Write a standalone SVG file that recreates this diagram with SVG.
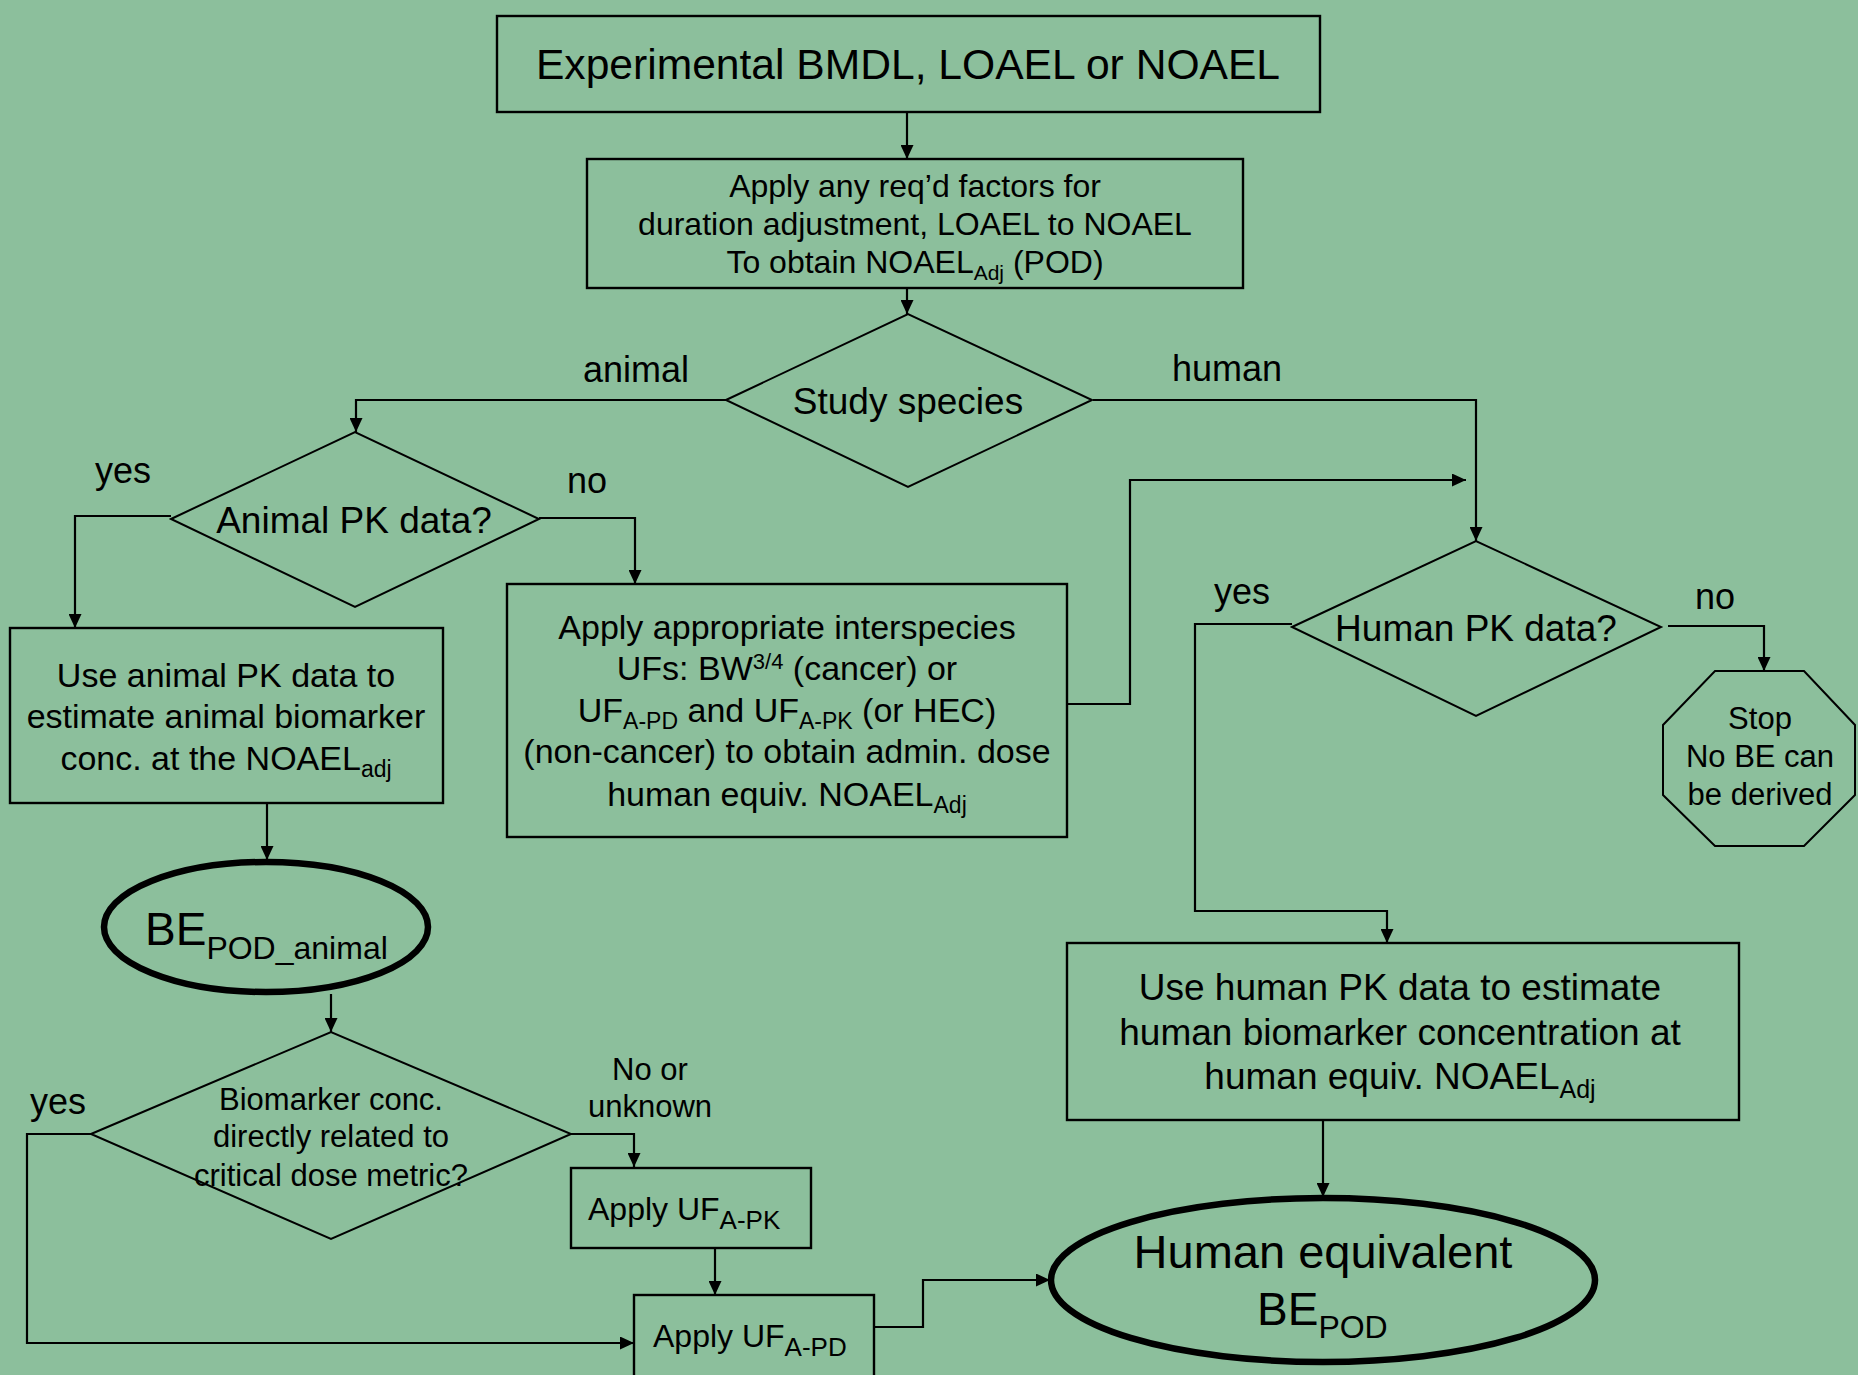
<svg xmlns="http://www.w3.org/2000/svg" width="1858" height="1375" viewBox="0 0 1858 1375">
<style>
text{font-family:"Liberation Sans",Arial,sans-serif;fill:#000}
.box{fill:none;stroke:#000;stroke-width:2.4}
.dia{fill:none;stroke:#000;stroke-width:2}
.oval{fill:none;stroke:#000;stroke-width:6.5}
.con{fill:none;stroke:#000;stroke-width:2.2;marker-end:url(#arr)}
.m{text-anchor:middle}
.lbl{font-size:36px}
</style>
<defs>
<marker id="arr" markerUnits="userSpaceOnUse" markerWidth="14" markerHeight="13" refX="14" refY="6.5" orient="auto">
<path d="M0,0 L14,6.5 L0,13 z" fill="#000"/>
</marker>
</defs>
<rect width="1858" height="1375" fill="#8cbf9c"/>

<g id="connectors">
<path class="con" d="M907,112 V159"/>
<path class="con" d="M907,288 V314"/>
<path class="con" d="M726,400 H356 V432"/>
<path class="con" d="M1093,400 H1476 V541"/>
<path class="con" d="M171,516 H75 V628"/>
<path class="con" d="M539,518 H635 V584"/>
<path class="con" d="M1067,704 H1130 V480 H1466"/>
<path class="con" d="M1292,624 H1195 V911 H1387 V943"/>
<path class="con" d="M1668,626 H1764 V671"/>
<path class="con" d="M267,803 V860"/>
<path class="con" d="M331,994 V1032"/>
<path class="con" d="M91,1134 H27 V1343 H634"/>
<path class="con" d="M571,1134 H634 V1167"/>
<path class="con" d="M715,1248 V1295"/>
<path class="con" d="M874,1327 H923 V1280 H1050"/>
<path class="con" d="M1323,1120 V1197"/>
</g>

<g id="labels">
<text class="lbl" x="583" y="382">animal</text>
<text class="lbl" x="1172" y="381">human</text>
<text class="lbl" x="95" y="483">yes</text>
<text class="lbl" x="567" y="493">no</text>
<text class="lbl" x="1214" y="604">yes</text>
<text class="lbl" x="1695" y="609">no</text>
<text class="lbl" x="30" y="1114">yes</text>
<text class="m" x="650" y="1080" font-size="31">No or</text>
<text class="m" x="650" y="1117" font-size="31">unknown</text>
</g>

<g id="n-experimental">
<rect class="box" x="497" y="16" width="823" height="96"/>
<text class="m" x="908" y="79" font-size="42.6">Experimental BMDL, LOAEL or NOAEL</text>
</g>

<g id="n-apply-factors">
<rect class="box" x="587" y="159" width="656" height="129"/>
<text class="m" font-size="32"><tspan x="915" y="197">Apply any req’d factors for</tspan><tspan x="915" y="235">duration adjustment, LOAEL to NOAEL</tspan><tspan x="915" y="273">To obtain NOAEL<tspan font-size="21" dy="7">Adj</tspan><tspan dy="-7"> (POD)</tspan></tspan></text>
</g>

<g id="n-study-species">
<polygon class="dia" points="726,400 908,314 1092,400 908,487"/>
<text class="m" x="908" y="414" font-size="37">Study species</text>
</g>

<g id="n-animal-pk">
<polygon class="dia" points="171,519 355,432 539,519 355,607"/>
<text class="m" x="354" y="533" font-size="37">Animal PK data?</text>
</g>

<g id="n-use-animal">
<rect class="box" x="10" y="628" width="433" height="175"/>
<text class="m" font-size="34"><tspan x="226" y="687">Use animal PK data to</tspan><tspan x="226" y="728">estimate animal biomarker</tspan><tspan x="226" y="770">conc. at the NOAEL<tspan font-size="23" dy="7">adj</tspan></tspan></text>
</g>

<g id="n-interspecies">
<rect class="box" x="507" y="584" width="560" height="253"/>
<text class="m" font-size="34"><tspan x="787" y="639">Apply appropriate interspecies</tspan><tspan x="787" y="680">UFs: BW<tspan font-size="22" dy="-11">3/4</tspan><tspan dy="11"> (cancer) or</tspan></tspan><tspan x="787" y="722">UF<tspan font-size="23" dy="7">A-PD</tspan><tspan dy="-7"> and UF</tspan><tspan font-size="23" dy="7">A-PK</tspan><tspan dy="-7"> (or HEC)</tspan></tspan><tspan x="787" y="763">(non-cancer) to obtain admin. dose</tspan><tspan x="787" y="806">human equiv. NOAEL<tspan font-size="23" dy="7">Adj</tspan></tspan></text>
</g>

<g id="n-human-pk">
<polygon class="dia" points="1292,627 1476,541 1661,627 1476,716"/>
<text class="m" x="1476" y="641" font-size="37">Human PK data?</text>
</g>

<g id="n-stop">
<polygon class="dia" points="1715,671 1804,671 1855,725 1855,795 1804,846 1715,846 1663,795 1663,725"/>
<text class="m" font-size="31"><tspan x="1760" y="729">Stop</tspan><tspan x="1760" y="767">No BE can</tspan><tspan x="1760" y="805">be derived</tspan></text>
</g>

<g id="n-be-pod-animal">
<ellipse class="oval" cx="266" cy="927" rx="162" ry="65"/>
<text x="145" y="945" font-size="46">BE<tspan font-size="32" dy="14">POD_animal</tspan></text>
</g>

<g id="n-biomarker">
<polygon class="dia" points="91,1134 331,1032 571,1134 331,1239"/>
<text class="m" font-size="31"><tspan x="331" y="1110">Biomarker conc.</tspan><tspan x="331" y="1147">directly related to</tspan><tspan x="331" y="1186">critical dose metric?</tspan></text>
</g>

<g id="n-uf-apk">
<rect class="box" x="571" y="1168" width="240" height="80"/>
<text x="588" y="1220" font-size="32">Apply UF<tspan font-size="26" dy="9">A-PK</tspan></text>
</g>

<g id="n-uf-apd">
<rect class="box" x="634" y="1295" width="240" height="90"/>
<text x="653" y="1347" font-size="32">Apply UF<tspan font-size="26" dy="9">A-PD</tspan></text>
</g>

<g id="n-use-human">
<rect class="box" x="1067" y="943" width="672" height="177"/>
<text class="m" font-size="37"><tspan x="1400" y="1000">Use human PK data to estimate</tspan><tspan x="1400" y="1045">human biomarker concentration at</tspan><tspan x="1400" y="1089">human equiv. NOAEL<tspan font-size="25" dy="9">Adj</tspan></tspan></text>
</g>

<g id="n-human-equivalent">
<ellipse class="oval" cx="1323" cy="1280" rx="272" ry="82"/>
<text class="m" x="1323" y="1268" font-size="47">Human equivalent</text>
<text x="1257" y="1325" font-size="46">BE<tspan font-size="32" dy="13">POD</tspan></text>
</g>
</svg>
